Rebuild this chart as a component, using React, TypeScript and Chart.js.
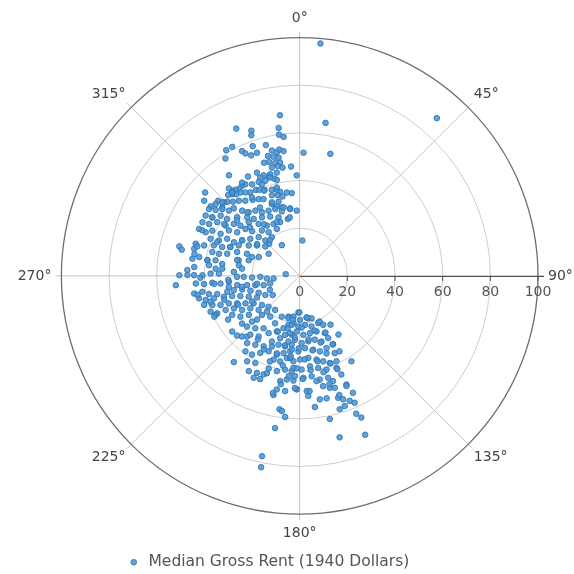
import { useEffect, useRef } from 'react';
import { Chart, registerables } from 'chart.js';

Chart.register(...registerables);

const seriesName = 'Median Gross Rent (1940 Dollars)';

// Direction of each observation, degrees clockwise from north
const directionDeg = [
  // upper-left group, outer part
  353, 336.7, 341.6, 341, 351.9, 351.7, 353.4, 332.4, 329.7, 340.1,
  345.5, 1.8, 335.2, 336.1, 338.1, 340.9, 327.7, 347.5, 349.6, 352.6,
  350.8, 345.2, 347.6, 349.9, 345, 347.8, 350.2, 345.6, 348.8, 351,
  355.5, 347.5, 343.8, 340.3, 338.1, 342.6, 345.3, 358.3, 324.9, 332.5,
  336.4, 340.1, 337.6, 346.6, 332.5, 329.3, 327.4, 325.4, 323.3, 321.6,
  321, 311.4, 308.2, 333.1, 334.9, 337.8, 342.1, 345.1, 346.9, 329.4,
  326.9, 324.6, 322.1, 320.4, 318.5, 354.5, 341, 344.9, 347.8, 331.9,
  334.8, 328.3, 324.1, 321, 318, 315.7, 314.1, 312.7, 310.5, 308,
  311.5, 344.1, 341.8, 338.8, 351.9, 345.4,
  // scattered
  5.1, 41, 9.6, 14.1, 4.3,
  // upper-left group, inner part
  306.4, 308.1, 310.8, 312.7, 315.7, 318.6, 321.3, 325.8, 329.3, 334.5, 339.9, 344.5, 351.8, 357.4,
  302.7, 303.8, 307.3, 308.1, 313.1, 318.1, 321.1, 327.2, 333.5, 340.1, 348.2,
  298.9, 299.8, 303.1, 304.2, 308.3, 310.3, 316.5, 321.7, 326.9, 333.3, 340,
  295, 294.9, 297.4, 298, 302.7, 304.9, 310.9, 313.2, 320.3, 324.6, 334.1,
  292.6, 293.7, 297.1, 297.1, 301.6, 306.9, 313.4, 315.8, 324.3,
  287.2, 287.7, 289.6, 290.4, 292.6, 296.6, 300.9, 305.5, 310.6, 316.5,
  283.8, 282.5, 284.4, 286.1, 285.3, 285.3, 287, 290.9, 292.8, 294.7, 305.5,
  279.1, 280.6, 279.6, 280.5, 284.4, 287,
  274.8, 276.7, 274.9, 275.3, 279.9, 271.5, 270.4, 271.6, 273.5, 277.2, 270.4, 270.4, 270.3,
  265.8, 265.1, 265.5, 264.5, 265.2, 269.1, 269, 268, 268.6, 265.3, 264.1, 276.9, 265.7,
  261.2, 261.6, 260, 258.2, 255.6, 255.5,
  260.5, 260.7, 258.7, 257.6, 257.6, 257.8, 256.7, 253.2, 247.6,
  257.4, 255.6, 255.3, 254.6, 253.4, 251.2, 247.7, 243.2, 240.9, 234.7,
  253.1, 251.6, 249.8, 248.8, 246.3, 243.1, 239.1, 232.4, 225.3,
  248.1, 245.6, 245.3, 243.7, 239.4, 236.7, 230.3, 222.5, 215.8, 203.7, 195.4, 182,
  245.1, 240, 235.5, 232.5, 224, 215.9, 168.5,
  // upper-left group, additional
  342.5, 337.5, 343.1, 345.5, 351.2, 337.3, 328.7, 328.3, 321, 313.5,
  320.4, 329.9, 339.3, 346.9, 311.6, 304.4, 303.8, 295.1, 314.4, 325.3,
  336.9, 350.4, 292.3, 292.5, 301.8, 306.7, 320.2, 329.9, 281.7, 279.8,
  278.7, 284.3, 291.6, 273, 268.9, 264.7, 266.8, 259.3, 259.5, 245,
  259.5, 253.9, 252.5, 244.9, 241.6, 244.5, 238.6, 230.4, 224.3, 230.5, 221,
  // lower group, left part
  226.2, 207.4, 197.2, 192.9, 187.5, 226.1, 220.3, 214.6, 208.5, 202.3,
  226.4, 223.6, 220, 214.1, 197.4, 193.9, 187.7, 218, 212.8, 207.1,
  201.5, 197.1, 191.7, 186.6, 215.7, 211.2, 207.1, 202.4, 196.2, 191.8,
  187.3, 217.4, 211.6, 207, 197.3, 192.9, 188.9, 184.2, 208.1, 203.8,
  200.1, 198.5, 193.5, 188.9, 184.8, 204.3, 190.5, 187.1, 183.4, 191.4,
  187.2, 192.4, 181.5, 188.6, 187.5, 185.9, 189.2, 191.8, 191.4,
  // lower group, right part
  180.5, 194.8, 188.7, 179.6, 170.5, 164.3, 189.2, 181.5, 173.9, 166.8, 158.6, 154.3,
  189.5, 183.1, 176.4, 169.9, 163.1, 156.3,
  189.7, 184.2, 178.3, 172.5, 166.6, 161.6, 155.4, 153.9, 186.1, 181, 175.8,
  169.6, 165, 159.6, 155.6, 186.7, 179.8, 174, 168.6, 164.6, 161, 156.7,
  183.9, 178.8, 173.5, 168.6, 164, 158.2, 148.8, 182.7, 177.9, 173.2, 169, 164.4, 157.1, 162.4,
  181.5, 176.5, 175.9, 168, 164.9, 162.6, 156.7, 162.5, 160.6, 158.2, 155.5,
  170.7, 167.6, 160.9, 156.6, 173.4, 163.3,
  157.7, 156.5, 168.1, 166.1, 157.6,
  // lower group, additional
  189, 170.5, 156.5, 147.7, 192.8, 177.8, 164.7, 155.5, 146.5, 184.6,
  172, 162.6, 154.4, 192.1, 180.8, 170.2, 160.9, 152.2, 186.3, 176.6,
  168.2, 160.6, 190.7, 181.8, 173.4, 166.1, 158, 186.2, 178.3, 170.9,
  164.6, 157, 182.5, 175.1, 161.6, 201.4, 203, 196.4, 199.2, 205.9,
  213.3, 198.6, 189.9, 192.9, 201,
];

// Median gross rent (1940 dollars) of each observation
const rentValues = [
  // upper-left group, outer part
  67.9, 67.3, 64.2, 62.4, 62.7, 59.9, 58.7, 61.1, 61.1, 57.9,
  56.7, 51.7, 57.7, 56.2, 54.5, 54.7, 58.3, 53.9, 52.8, 52.8,
  53.7, 52, 51.2, 50.4, 49.5, 48.6, 48.2, 46.9, 47, 46,
  46, 44.4, 44.4, 44.8, 44.4, 43.7, 42.2, 42.2, 51.6, 47,
  43, 42.4, 41.6, 41.4, 43.3, 44.7, 44.9, 44.5, 45.1, 45.6,
  47.2, 52.9, 51, 40.5, 39.9, 39, 38, 37.4, 36.2, 40.7,
  41.8, 42.9, 43.4, 44.5, 45.3, 34.9, 35.8, 35.1, 34.1, 36.5,
  35.6, 37.5, 38.9, 40.6, 41.9, 43.5, 44.3, 46.5, 46.4, 47.4,
  43.4, 32.4, 30.7, 32.3, 28.6, 29.7,
  // scattered
  97.9, 87.7, 65.1, 52.8, 14.9,
  // upper-left group, inner part
  47.3, 44.8, 42.9, 40.4, 39.6, 36.5, 34.2, 33.1, 31, 30.3, 29.9, 28.1, 28.3, 27.4,
  46.9, 44.1, 41.7, 38.7, 36, 33, 30.7, 29.2, 27.8, 26.1, 24.4,
  46.6, 43.8, 41.3, 37.6, 35.2, 32.6, 31, 27.8, 25.2, 24.4, 24,
  46.6, 43.5, 41.3, 37.6, 35.3, 32, 30.1, 27.4, 24.8, 22.5, 21.9,
  40.5, 37, 34.2, 31, 28.4, 25.9, 23.7, 20.7, 20,
  45.7, 42.1, 38.2, 34.7, 31.5, 28.6, 24.9, 22, 19, 18.6,
  52, 50.7, 45.7, 44.7, 38, 35.1, 31.8, 28.1, 24, 18.9, 16,
  45.6, 42.9, 39.3, 35.9, 26.4, 22.4,
  44.4, 38.3, 35.4, 32.6, 25.9, 37.4, 40.8, 33.9, 27.7, 24.4, 44.3, 47.1, 50.5,
  43.7, 40.3, 36.8, 33.4, 29.8, 26.3, 23.5, 20, 16.5, 13.8, 11, 5.9, 52.1,
  30.1, 26.5, 22.4, 19, 15.6, 12.8,
  44.9, 41.4, 38.8, 35.4, 31.1, 28.3, 24.8, 21.6, 18.6,
  43.3, 40.7, 37.2, 33, 29.6, 26.3, 23.1, 20.1, 16.5, 13.9,
  41.9, 38.6, 35.4, 31.9, 28.7, 25.5, 22.5, 20, 18.4,
  40.3, 38, 34.2, 30.8, 28.1, 24.8, 22.4, 20.3, 17.6, 18.7, 17.7, 15.4,
  38.9, 32.7, 30.2, 26.9, 22.8, 21.1, 18.2,
  // upper-left group, additional
  49.8, 46.9, 43.1, 38.3, 35.4, 38.8, 38.5, 46, 45, 44.8,
  34.6, 33.2, 33, 29.5, 35.1, 38.4, 44.2, 45.1, 29.2, 26.3,
  24.5, 24.9, 37.4, 31.6, 28.4, 22.3, 19.5, 14.9, 45.1, 39.3,
  32.9, 27.1, 21.5, 47.2, 41.7, 36, 30, 24.6, 18.2, 13.8,
  43.6, 39, 33.2, 28.5, 22.7, 39.7, 35.2, 31.4, 25.6, 36.7, 33.7,
  // lower group, left part
  27.7, 22.4, 23, 21.1, 20, 30.7, 28.8, 26.7, 27.3, 25.2,
  36.3, 35.1, 32.2, 30.7, 27.4, 25.5, 24.9, 35.8, 34.4, 33.2,
  31.8, 30.2, 30.2, 29.1, 39, 38.6, 36.3, 34.2, 34.4, 33.1,
  31.9, 45.5, 42.1, 41, 36.8, 36.8, 34.9, 35.9, 45.3, 44.5,
  44, 41, 41.1, 39.8, 40.1, 46.9, 44.9, 43.8, 44, 48.6,
  48.7, 51.2, 47.6, 56.6, 57.2, 59.5, 64.7, 77.3, 81.9,
  // lower group, right part
  15.3, 18.4, 17.3, 18.5, 17.7, 18.5, 20.8, 21.3, 20.7, 21.8, 21.3, 22.8,
  24.4, 23.4, 24.8, 24.4, 24.4, 26.2,
  27.9, 26.9, 28.2, 27.7, 27.5, 29, 28.7, 31.9, 31.1, 31.7, 30.4,
  31.5, 32.8, 32.3, 35.6, 34.7, 35.1, 34.6, 35.8, 37.2, 38.7, 39,
  38.7, 39.3, 38.2, 39.4, 40.9, 41.6, 41.9, 42.1, 42.8, 42.4, 44.3, 44.4, 44.9, 46.3,
  47.6, 48.4, 50.5, 47.3, 48.6, 49.2, 49.6, 53.6, 54.9, 56.5, 53.9,
  52.5, 52.6, 57.8, 58, 55.4, 58.4,
  62.5, 64.8, 61.4, 69.8, 72.1,
  // lower group, additional
  18.6, 17.7, 20.9, 24.2, 22.6, 21.7, 23.8, 26.1, 29.5, 25.9,
  26.9, 29.3, 31.9, 29.8, 30.4, 31.7, 34.4, 35.8, 34, 35.1,
  36.6, 38.9, 38.2, 38.8, 39.8, 41.6, 42.2, 42.3, 43.3, 44.7,
  47.1, 50.2, 47.1, 48.5, 52.7, 25.1, 29.9, 33.9, 38, 34.3,
  31.9, 43.1, 46.1, 50.4, 46.4,
];

const radialTicks = [0, 20, 40, 60, 80, 100];
const angleTicks = [0, 45, 90, 135, 180, 225, 270, 315];
const angleTickLabels = ['0°', '45°', '90°', '135°', '180°', '225°', '270°', '315°'];

// layout constants (pixels)
const CANVAS_W = 574;
const CANVAS_H = 580;
const CENTER_X = 298;
const CENTER_Y = 274;
const PX_PER_UNIT = 2.4;
const PAD_RIGHT = 38;
const LEGEND_FONT = 15.5;
const LEGEND_PAD = 10;
const LEGEND_H = LEGEND_FONT + 2 * LEGEND_PAD;

const FONT = '"DejaVu Sans", Verdana, sans-serif';

const polarGrid = {
  id: 'polarGrid',
  beforeDatasetsDraw(chart: any) {
    const { ctx, scales } = chart;
    const xs = scales.x;
    const ys = scales.y;
    const cx = xs.getPixelForValue(0);
    const cy = ys.getPixelForValue(0);
    const unit = xs.getPixelForValue(1) - cx;
    const rMax = radialTicks[radialTicks.length - 1];
    const R = rMax * unit;
    ctx.save();
    // inner rings
    ctx.strokeStyle = '#cdcdcd';
    ctx.lineWidth = 1;
    radialTicks.forEach((t) => {
      if (t <= 0 || t >= rMax) return;
      ctx.beginPath();
      ctx.arc(cx, cy, t * unit, 0, Math.PI * 2);
      ctx.stroke();
    });
    // spokes
    angleTicks.forEach((a) => {
      if (a === 90) return;
      const rad = (a * Math.PI) / 180;
      ctx.beginPath();
      ctx.moveTo(cx, cy);
      ctx.lineTo(cx + (R + 6) * Math.sin(rad), cy - (R + 6) * Math.cos(rad));
      ctx.strokeStyle = '#c4c4c4';
      ctx.stroke();
    });
    // outer ring
    ctx.beginPath();
    ctx.arc(cx, cy, R, 0, Math.PI * 2);
    ctx.strokeStyle = '#6e6e6e';
    ctx.lineWidth = 1.3;
    ctx.stroke();
    // value axis
    ctx.beginPath();
    ctx.moveTo(cx, cy + 0.5);
    ctx.lineTo(cx + R + 6, cy + 0.5);
    ctx.strokeStyle = '#4d4d4d';
    ctx.lineWidth = 1.3;
    ctx.stroke();
    ctx.lineWidth = 1;
    radialTicks.forEach((t) => {
      if (t <= 0) return;
      ctx.beginPath();
      ctx.moveTo(cx + t * unit, cy);
      ctx.lineTo(cx + t * unit, cy + 5);
      ctx.stroke();
    });
    // value tick labels
    ctx.fillStyle = '#555555';
    ctx.font = `14px ${FONT}`;
    ctx.textAlign = 'center';
    ctx.textBaseline = 'middle';
    radialTicks.forEach((t) => {
      ctx.fillText(String(t), cx + t * unit, cy + 16);
    });
    // angle labels
    ctx.fillStyle = '#444444';
    angleTicks.forEach((a, i) => {
      const rad = (a * Math.PI) / 180;
      const s = Math.sin(rad);
      const c = Math.cos(rad);
      const diag = Math.abs(s) > 0.1 && Math.abs(c) > 0.1;
      const off = diag ? 8 : Math.abs(c) > 0.9 ? 12 : 10;
      const px = cx + (R + off) * s;
      const py = cy - (R + off) * c;
      ctx.textAlign = s > 0.1 ? 'left' : s < -0.1 ? 'right' : 'center';
      ctx.textBaseline = c > 0.1 ? 'bottom' : c < -0.1 ? 'top' : 'middle';
      ctx.fillText(angleTickLabels[i], px, py);
    });
    ctx.restore();
  },
};

export default function App() {
  const canvasRef = useRef<HTMLCanvasElement | null>(null);

  useEffect(() => {
    const canvas = canvasRef.current;
    if (!canvas) return;
    const points = directionDeg.map((deg, i) => {
      const rad = (deg * Math.PI) / 180;
      const r = rentValues[i];
      return { x: r * Math.sin(rad), y: r * Math.cos(rad) };
    });
    const areaW = CANVAS_W - PAD_RIGHT;
    const areaH = CANVAS_H - LEGEND_H;
    const xMin = -CENTER_X / PX_PER_UNIT;
    const xMax = xMin + areaW / PX_PER_UNIT;
    const yMax = CENTER_Y / PX_PER_UNIT;
    const yMin = yMax - areaH / PX_PER_UNIT;

    const chart = new Chart(canvas, {
      type: 'scatter',
      data: {
        datasets: [
          {
            label: seriesName,
            data: points,
            pointRadius: 2.8,
            pointHoverRadius: 2.8,
            pointStyle: 'circle',
            backgroundColor: 'rgba(78,150,210,0.88)',
            borderColor: 'rgba(44,116,182,0.85)',
            borderWidth: 1,
          },
        ],
      },
      plugins: [polarGrid],
      options: {
        responsive: false,
        animation: false,
        events: [],
        layout: { padding: { left: 0, top: 0, right: PAD_RIGHT, bottom: 0 } },
        scales: {
          x: { type: 'linear', min: xMin, max: xMax, display: false },
          y: { type: 'linear', min: yMin, max: yMax, display: false },
        },
        plugins: {
          legend: {
            display: true,
            position: 'bottom',
            labels: {
              usePointStyle: true,
              pointStyle: 'circle',
              boxWidth: 14,
              boxHeight: 4,
              padding: LEGEND_PAD,
              color: '#555555',
              font: { family: FONT, size: LEGEND_FONT },
            },
          },
          tooltip: { enabled: false },
        },
      },
    });
    return () => chart.destroy();
  }, []);

  return (
    <div style={{ position: 'fixed', left: 0, top: 0, width: CANVAS_W, height: CANVAS_H }}>
      <canvas ref={canvasRef} width={CANVAS_W} height={CANVAS_H} style={{ display: 'block' }} />
    </div>
  );
}
